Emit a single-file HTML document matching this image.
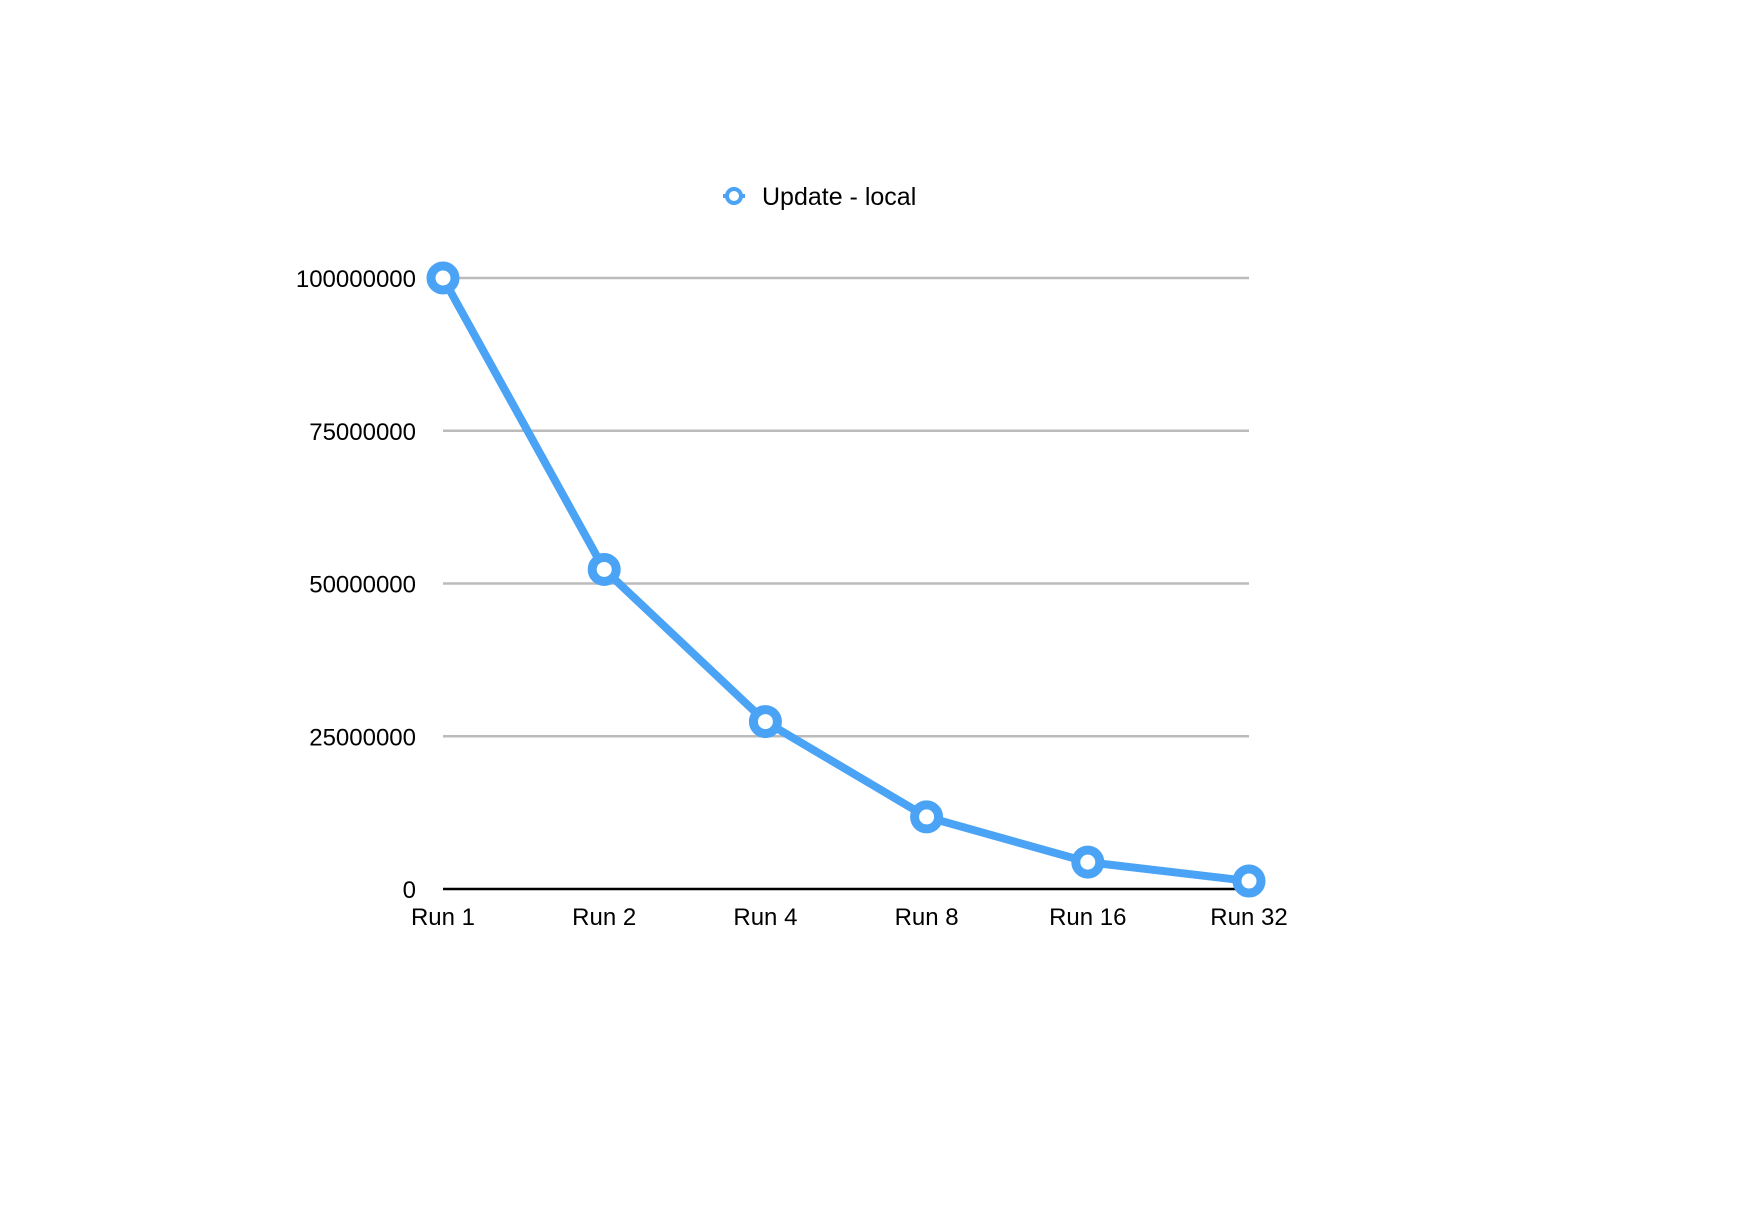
<!DOCTYPE html>
<html><head><meta charset="utf-8"><style>
body{margin:0;background:#fff;}
text{font-family:"Liberation Sans",Arial,sans-serif;fill:#000;}
</style></head><body>
<svg id="chart" width="1738" height="1226">
<g id="grid"></g>
<g id="ylabels"></g>
<g id="xlabels"></g>
<g id="series"></g>
<g>
<line x1="723" y1="196" x2="745" y2="196" stroke="#4aa3f5" stroke-width="4"/>
<circle cx="734" cy="196" r="7" fill="#fff" stroke="#4aa3f5" stroke-width="4"/>
<text x="762" y="205" font-size="25">Update - local</text>
</g>
</svg>
<script>
const categories=["Run 1","Run 2","Run 4","Run 8","Run 16","Run 32"];
const values=[100000000,52300000,27400000,11800000,4400000,1300000];
const yTicks=[0,25000000,50000000,75000000,100000000];
const yTickLabels=["0","25000000","50000000","75000000","100000000"];
const NS="http://www.w3.org/2000/svg";
const x0=443,x1=1249,yBase=889,yTop=278;
function xPos(i){return x0+(x1-x0)*i/(categories.length-1);}
function yPos(v){return yBase-(yBase-yTop)*v/100000000;}
function mk(t,a,p){const e=document.createElementNS(NS,t);for(const k in a)e.setAttribute(k,a[k]);p.appendChild(e);return e;}
const grid=document.getElementById('grid'),yl=document.getElementById('ylabels'),xl=document.getElementById('xlabels'),se=document.getElementById('series');
yTicks.forEach((v,i)=>{
 const y=yPos(v);
 const l=mk('line',{x1:x0,x2:x1,y1:y,y2:y,stroke:v===0?'#000':'#bbb','stroke-width':2.5},grid);
 
 
 const t=mk('text',{x:416,y:y+9,'font-size':24,'text-anchor':'end'},yl);
 t.textContent=yTickLabels[i];
 
 
});
categories.forEach((c,i)=>{
 const t=mk('text',{x:xPos(i),y:925,'font-size':24,'text-anchor':'middle'},xl);
 t.textContent=c;
 
 
});
const pts=values.map((v,i)=>xPos(i)+','+yPos(v)).join(' ');
const pl=mk('polyline',{points:pts,fill:'none',stroke:'#4aa3f5','stroke-width':8,'stroke-linejoin':'round'},se);


values.forEach((v,i)=>{
 const c=mk('circle',{cx:xPos(i),cy:yPos(v),r:12,fill:'#fff',stroke:'#4aa3f5','stroke-width':9},se);
 
 
});
</script>
</body></html>
